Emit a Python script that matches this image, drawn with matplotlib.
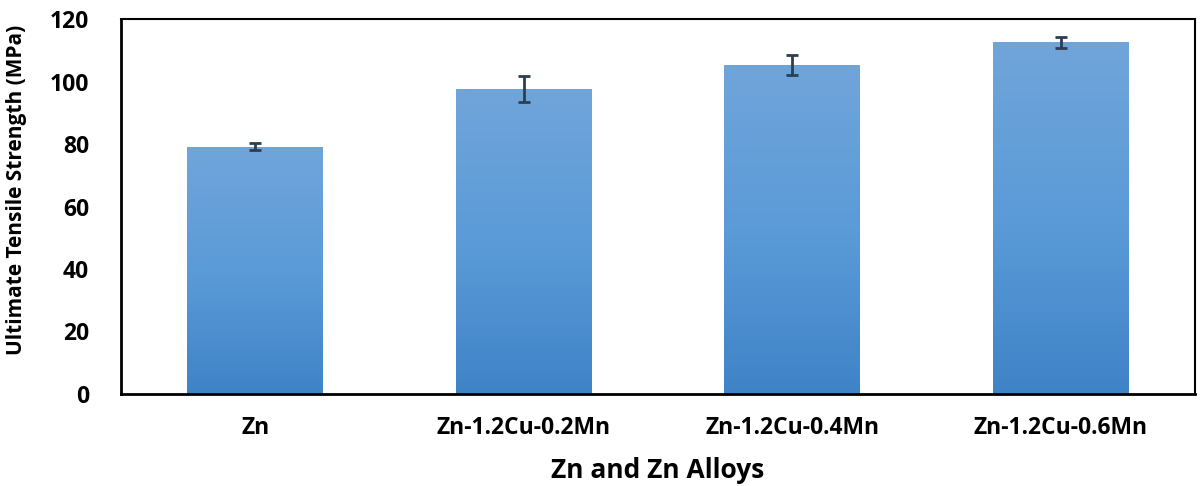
import matplotlib
matplotlib.use("Agg")
import matplotlib.pyplot as plt
import numpy as np
from matplotlib.colors import LinearSegmentedColormap

categories = ["Zn", "Zn-1.2Cu-0.2Mn", "Zn-1.2Cu-0.4Mn", "Zn-1.2Cu-0.6Mn"]
uts = [79.2, 97.6, 105.3, 112.5]
err = [1.0, 4.2, 3.2, 1.7]
yticks = [0, 20, 40, 60, 80, 100, 120]

plt.rcParams['font.family'] = ['Open Sans', 'DejaVu Sans']
fig = plt.figure(figsize=(12, 4.86), dpi=100)
ax = fig.add_axes([121/1200, 1-394/486, (1195-121)/1200, (394-19)/486])

x = np.arange(len(categories))
bars = ax.bar(x, uts, width=0.506, color='none', edgecolor='none', zorder=2)

cmap = LinearSegmentedColormap.from_list('g', ['#3f83c7', '#5b9bd8', '#70a5da'])
grad = np.linspace(0, 1, 256).reshape(-1, 1)
for b in bars:
    x0, w, h = b.get_x(), b.get_width(), b.get_height()
    im = ax.imshow(grad, extent=[x0, x0 + w, 0, h], origin='lower', aspect='auto',
                   cmap=cmap, zorder=2)
    im.set_clip_path(b)

ax.errorbar(x, uts, yerr=err, fmt='none', ecolor='#2e3d52', elinewidth=2,
            capsize=4.3, capthick=2, zorder=3)

ax.set_xlim(-0.5, len(categories) - 0.5)
ax.set_ylim(0, 120)
ax.set_yticks(yticks)
ax.set_xticks(x)
ax.set_xticklabels(categories)
ax.tick_params(axis='both', length=0, labelsize=16.5)
ax.tick_params(axis='y', pad=23)
ax.tick_params(axis='x', pad=16)
for lbl in ax.get_xticklabels() + ax.get_yticklabels():
    lbl.set_fontweight('bold')

for s in ['left', 'bottom']:
    ax.spines[s].set_linewidth(2)
for s in ['top', 'right']:
    ax.spines[s].set_linewidth(1.5)

ax.set_ylabel("Ultimate Tensile Strength (MPa)", fontsize=15, fontweight='bold')
ax.yaxis.set_label_coords(-0.0875, 0.545)
ax.set_xlabel("Zn and Zn Alloys", fontsize=19, fontweight='bold', labelpad=12)

fig.savefig("out.png", dpi=100)
